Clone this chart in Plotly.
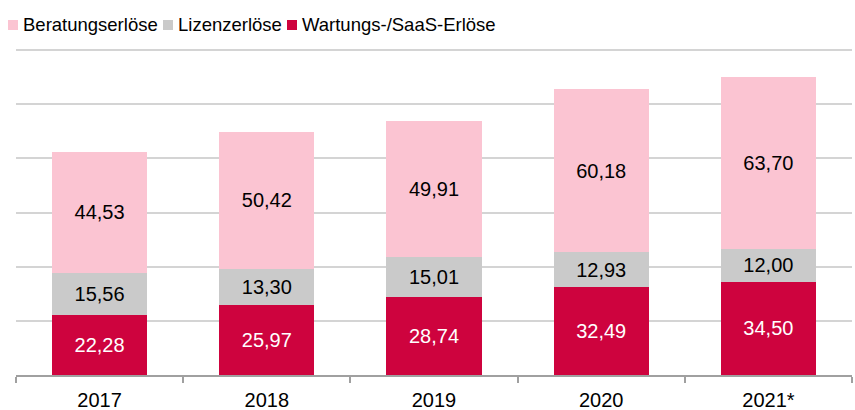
import plotly.graph_objects as go

years = ["2017", "2018", "2019", "2020", "2021*"]
wartung = [22.28, 25.97, 28.74, 32.49, 34.50]
lizenz = [15.56, 13.30, 15.01, 12.93, 12.00]
beratung = [44.53, 50.42, 49.91, 60.18, 63.70]

names = ["Beratungserlöse", "Lizenzerlöse", "Wartungs-/SaaS-Erlöse"]
colors = ["#FBC4D2", "#CACACA", "#CE033E"]
text_colors = ["#000000", "#000000", "#FFFFFF"]

FONT = "Liberation Sans, Arial, sans-serif"

fig = go.Figure()
series = [(wartung, 2), (lizenz, 1), (beratung, 0)]
for vals, i in series:
    fig.add_trace(go.Bar(
        x=years, y=vals, name=names[i],
        marker=dict(color=colors[i], line=dict(width=0)),
        texttemplate="%{y:.2f}", textposition="inside",
        insidetextanchor="middle", textangle=0,
        textfont=dict(color=text_colors[i], size=20, family=FONT),
        showlegend=False, hoverinfo="skip",
    ))

W, H = 855, 410
ml, mr, mt, mb = 16, 3, 49, 35
pw = W - ml - mr
ph = H - mt - mb

def px_x(px):
    return (px - ml) / pw

def px_y(py):
    return (H - mb - py) / ph

# compact legend like the reference
legend_x = [8, 163, 287]
shapes = []
annotations = []
for i, lx in enumerate(legend_x):
    shapes.append(dict(type="rect", xref="paper", yref="paper",
                       x0=px_x(lx), x1=px_x(lx + 10), y0=px_y(30), y1=px_y(20),
                       fillcolor=colors[i], line=dict(width=0)))
    annotations.append(dict(xref="paper", yref="paper", x=px_x(lx + 13), y=px_y(25),
                            xanchor="left", yanchor="middle", showarrow=False,
                            text=names[i], font=dict(size=18.5, color="#000000", family=FONT)))

fig.update_layout(
    width=W, height=H,
    barmode="stack", bargap=0.43,
    separators=", ",
    margin=dict(l=ml, r=mr, t=mt, b=mb, autoexpand=False),
    paper_bgcolor="white", plot_bgcolor="white",
    font=dict(family=FONT, color="#000000"),
    uniformtext=dict(minsize=20, mode="show"),
    shapes=shapes, annotations=annotations,
    showlegend=False,
)
fig.update_yaxes(range=[0, 120.4], dtick=20, showticklabels=False,
                 showgrid=True, gridcolor="#D4D4D4", gridwidth=1.5,
                 zeroline=False, showline=False, automargin=False)
fig.update_xaxes(showline=True, linecolor="#A0A0A0", linewidth=1.5,
                 ticks="outside", tickson="boundaries", ticklen=6, tickcolor="#A0A0A0",
                 tickwidth=1.5, ticklabelstandoff=6, automargin=False,
                 tickfont=dict(size=20, color="#000000", family=FONT),
                 showgrid=False)

fig.write_html("out.html", config={"displayModeBar": False},
               post_script="document.body.style.margin='0';document.body.style.overflow='hidden';")
